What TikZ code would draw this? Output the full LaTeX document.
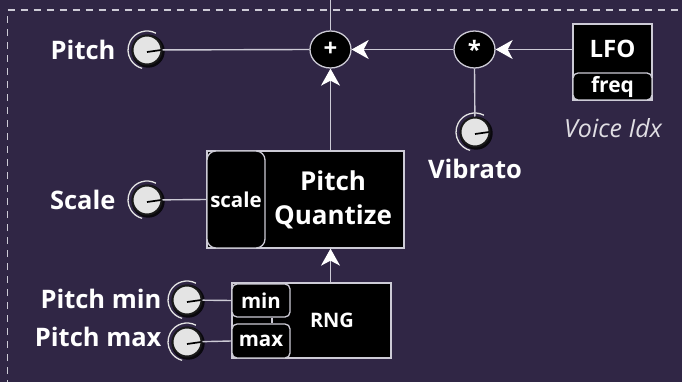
\documentclass[tikz,border=0pt]{standalone}
\usepackage{fontspec}
\setmainfont{Open Sans}
\usetikzlibrary{arrows.meta,shapes.geometric}
\definecolor{bgpurple}{RGB}{48,38,69}
\definecolor{wire}{RGB}{205,203,214}
\definecolor{knobface}{RGB}{228,228,228}
\tikzset{
  wireline/.style={draw=wire,line width=1.4pt},
  arrowin/.style={wireline,-{Stealth[length=17pt,width=19pt,inset=5pt,fill=white,color=white]}},
  opnode/.style={ellipse,fill=black,draw=wire,line width=1.3pt,minimum width=41pt,minimum height=37pt,inner sep=0pt,text=white,font=\bfseries\fontsize{24}{24}\selectfont},
  block/.style={rectangle,fill=black,draw=wire,line width=1.3pt,inner sep=0pt},
  port/.style={rectangle,rounded corners=5pt,fill=black,draw=wire,line width=1.3pt,inner sep=0pt,text=white,font=\bfseries\fontsize{20.5}{20.5}\selectfont},
  blocktext/.style={text=white,font=\bfseries\fontsize{26}{34}\selectfont,align=center},
  lbl/.style={text=white,font=\bfseries\fontsize{25.5}{25.5}\selectfont},
  knob/.style={circle,fill=knobface,draw=black!90,line width=2pt,minimum size=29pt,inner sep=0pt,
    path picture={\draw[black,line width=1.7pt] ([yshift=-2pt]path picture bounding box.center) -- ++(8:15pt);}},
  knobshadow/.style={fill=black!80!bgpurple},
  knobarc/.style={draw=knobface,line width=1.3pt},
  dashframe/.style={draw=wire,line width=1.6pt,dash pattern=on 7pt off 6pt}
}
\begin{document}
\begin{tikzpicture}[x=1pt,y=1pt]
\useasboundingbox (0,0) rectangle (682,-382);
\fill[bgpurple] (0,0) rectangle (682,-382);
\clip (0,0) rectangle (682,-382);

% frame of the pitch section
\draw[dashframe] (7.5,-400) -- (7.5,-10) -- (700,-10);

% operators
\node[opnode] (plus) at (330.5,-49.5) {+};
\node[opnode] (mul) at (474.5,-49.5) {*};
\coordinate (out) at (330.5,10);

% LFO block
\node[block,minimum width=79pt,minimum height=76pt] (lfo) at (612.5,-62) {};
\node[text=white,font=\bfseries\fontsize{24}{24}\selectfont] (lfotxt) at (612.5,-49) {LFO};
\node[port,minimum width=79pt,minimum height=27pt,font=\bfseries\fontsize{21}{21}\selectfont] (freq) at (612.5,-86.5) {\raisebox{-2pt}{freq}};
\node[text=white!85!bgpurple,font=\itshape\fontsize{25}{25}\selectfont] (vidx) at (613,-128) {Voice Idx};

% Pitch Quantize block
\node[block,minimum width=197pt,minimum height=97pt] (quant) at (305.5,-199.5) {};
\node[port,rounded corners=9pt,minimum width=58pt,minimum height=97pt] (scalein) at (236,-199.5) {scale};
\node[blocktext] (quanttxt) at (333,-200) {Pitch\\Quantize};

% RNG block
\node[block,minimum width=159pt,minimum height=75pt] (rng) at (311.5,-320.5) {};
\node[port,minimum width=58pt,minimum height=33pt] (minin) at (261,-300.5) {min};
\node[port,minimum width=58pt,minimum height=34pt] (maxin) at (261,-341) {max};
\node[text=white,font=\bfseries\fontsize{20}{20}\selectfont] (rngtxt) at (332,-320.5) {RNG};

% knobs, each with a soft dark rim underneath
\foreach \x/\y in {147/-50,147/-200,187/-300,187/-342,475/-132}
  \fill[knobshadow] (\x+1.2,\y-1.2) circle (16.5pt);
\node[knob] (kpitch) at (147,-50) {};
\node[knob] (kscale) at (147,-200) {};
\node[knob] (kmin) at (187,-300) {};
\node[knob] (kmax) at (187,-342) {};
\node[knob] (kvib) at (475,-132) {};
\foreach \k in {kpitch,kscale,kmin,kmax,kvib}
  \draw[knobarc] ([shift={(62:19pt)}]\k.center) arc (62:255:19pt);

% labels
\node[lbl,anchor=east] (lpitch) at (119,-50) {Pitch};
\node[lbl,anchor=east] (lscale) at (119,-200) {Scale};
\node[lbl,anchor=east] (lmin) at (165,-299) {Pitch min};
\node[lbl,anchor=east] (lmax) at (165,-337) {Pitch max};
\node[lbl] (lvib) at (475,-169) {Vibrato};

% connectors
\draw[wireline] (plus.north) -- (out);
\draw[wireline] (kpitch) -- (plus.west);
\draw[arrowin] (mul.west) -- (plus.east);
\draw[arrowin] (lfo.west |- mul) -- (mul.east);
\draw[wireline] (kvib) -- (mul.south);
\draw[arrowin] (plus |- quant.north) -- (plus.south);
\draw[arrowin] (plus |- rng.north) -- (plus |- quant.south);
\draw[wireline] (kscale) -- (scalein.west);
\draw[wireline] (kmin) -- (minin.west);
\draw[wireline] (kmax) -- (maxin.west);
\draw[wireline] ([xshift=11pt]minin.south) -- ([xshift=11pt]maxin.north);
\end{tikzpicture}
\end{document}
